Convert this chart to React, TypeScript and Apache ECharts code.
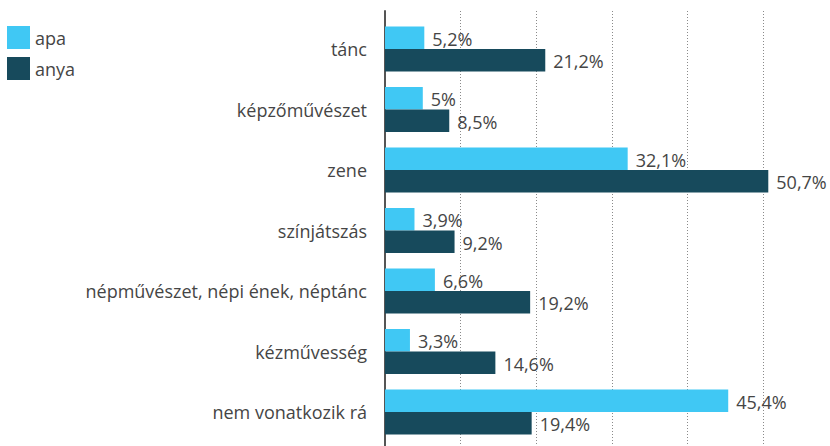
import React, { useEffect, useRef } from "react";
import * as echarts from "echarts";

const categories = [
  "tánc",
  "képzőművészet",
  "zene",
  "színjátszás",
  "népművészet, népi ének, néptánc",
  "kézművesség",
  "nem vonatkozik rá",
];
const apaValues = [5.2, 5, 32.1, 3.9, 6.6, 3.3, 45.4];
const anyaValues = [21.2, 8.5, 50.7, 9.2, 19.2, 14.6, 19.4];
const seriesNames = ["apa", "anya"];
const xMin = 0;
const xMax = 60;
const xInterval = 10;

const FONT = "'Open Sans', sans-serif";
const TEXT_COLOR = "#454545";
const LIGHT = "#40C8F4";
const DARK = "#174A5C";

const fmt = (v: number) => String(v).replace(".", ",") + "%";

export default function App() {
  const ref = useRef<HTMLDivElement>(null);
  useEffect(() => {
    if (!ref.current) return;
    const chart = echarts.init(ref.current, undefined, { renderer: "svg" });
    const labelCfg = {
      show: true,
      position: "right" as const,
      distance: 8,
      color: TEXT_COLOR,
      fontFamily: FONT,
      fontSize: 18,
      offset: [0, 1],
      formatter: (p: any) => fmt(p.value),
    };
    chart.setOption({
      animation: false,
      backgroundColor: "#ffffff",
      textStyle: { fontFamily: FONT },
      legend: {
        orient: "vertical",
        left: 7,
        top: 26,
        padding: 0,
        itemWidth: 23,
        itemHeight: 23,
        itemGap: 8,
        icon: "rect",
        data: seriesNames,
        textStyle: { color: TEXT_COLOR, fontFamily: FONT, fontSize: 18 },
      },
      grid: [
        {
          left: 385,
          width: 453.6,
          top: 18.75,
          height: 423.5,
          containLabel: false,
          outerBoundsMode: "none",
        },
        {
          left: 385,
          width: 453.6,
          top: 11,
          height: 435,
          containLabel: false,
          outerBoundsMode: "none",
        },
      ],
      xAxis: [
        {
          gridIndex: 0,
          type: "value",
          min: xMin,
          max: xMax,
          interval: xInterval,
          show: false,
          splitLine: { show: false },
        },
        {
          gridIndex: 1,
          type: "value",
          min: xMin,
          max: xMax,
          interval: xInterval,
          axisLine: { show: false },
          axisTick: { show: false },
          axisLabel: { show: false },
          splitLine: {
            show: true,
            lineStyle: { color: "#8a8a8a", type: [1, 2], width: 1 },
          },
        },
      ],
      yAxis: [
        {
          gridIndex: 0,
          type: "category",
          inverse: true,
          data: categories,
          axisLine: { show: false },
          axisTick: { show: false },
          splitLine: { show: false },
          axisLabel: {
            color: TEXT_COLOR,
            fontFamily: FONT,
            fontSize: 18,
            margin: 18,
          },
        },
        {
          gridIndex: 1,
          type: "value",
          min: 0,
          max: 1,
          axisLine: { show: true, lineStyle: { color: "#555555", width: 2 } },
          axisTick: { show: false },
          axisLabel: { show: false },
          splitLine: { show: false },
        },
      ],
      series: [
        {
          name: seriesNames[0],
          type: "bar",
          xAxisIndex: 0,
          yAxisIndex: 0,
          data: apaValues,
          barWidth: 22.5,
          barGap: "0%",
          itemStyle: { color: LIGHT },
          label: labelCfg,
          z: 3,
        },
        {
          name: seriesNames[1],
          type: "bar",
          xAxisIndex: 0,
          yAxisIndex: 0,
          data: anyaValues,
          barWidth: 22.5,
          barGap: "0%",
          itemStyle: { color: DARK },
          label: labelCfg,
          z: 3,
        },
      ],
    });
    return () => chart.dispose();
  }, []);
  return (
    <div
      ref={ref}
      style={{ position: "fixed", left: 0, top: 0, width: 830, height: 446 }}
    />
  );
}
